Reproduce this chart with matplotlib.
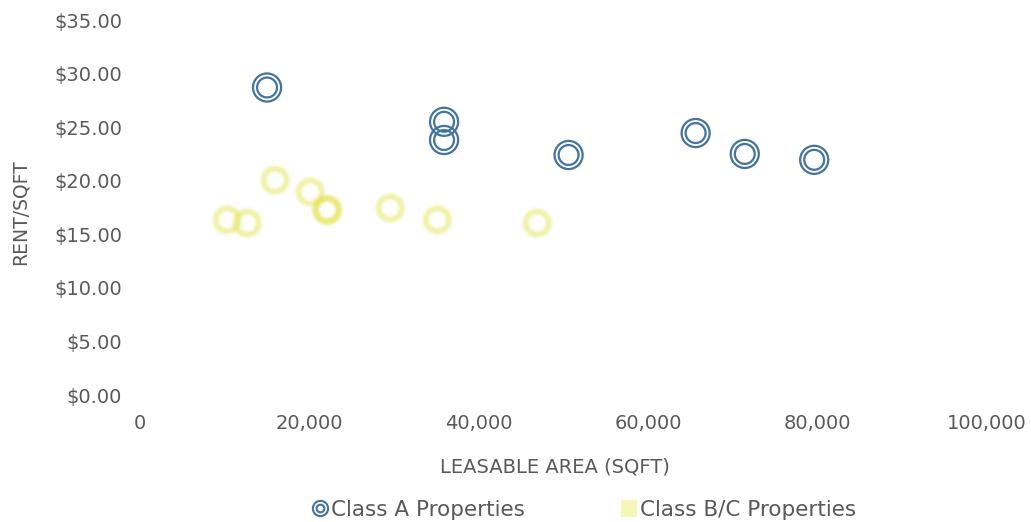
import matplotlib
matplotlib.use("Agg")
import matplotlib.pyplot as plt
from matplotlib.lines import Line2D
from matplotlib.patches import Patch
from matplotlib.legend_handler import HandlerTuple
from matplotlib.ticker import FuncFormatter

# Leasable area (sqft) and rent per sqft
class_a_area = [15000, 35900, 35900, 50600, 65600, 71400, 79600]
class_a_rent = [28.70, 25.50, 23.80, 22.40, 24.45, 22.50, 21.95]

class_bc_area = [10300, 12650, 15950, 20100, 22100, 22100, 29550, 35100, 46900]
class_bc_rent = [16.35, 16.05, 20.05, 18.95, 17.30, 17.25, 17.45, 16.35, 16.05]

x_ticks = [0, 20000, 40000, 60000, 80000, 100000]
y_ticks = [0, 5, 10, 15, 20, 25, 30, 35]

series_names = ["Class A Properties", "Class B/C Properties"]
x_title = "LEASABLE AREA (SQFT)"
y_title = "RENT/SQFT"

BLUE = "#44739f"
YELLOW = "#e2e23c"
TEXT = "#595959"
plt.rcParams["font.family"] = ["DejaVu Sans"]

W, H = 1031, 522
fig = plt.figure(figsize=(W / 100, H / 100), dpi=100)
ax = fig.add_axes([140 / W, (H - 395) / H, (987 - 140) / W, (395 - 20) / H])

# Class B/C: soft, blurred yellow rings
for lw, a in [(7.0, 0.09), (5.0, 0.14), (3.0, 0.24)]:
    ax.scatter(class_bc_area, class_bc_rent, s=270, facecolors="none",
               edgecolors=YELLOW, linewidths=lw, alpha=a, zorder=2)

# Class A: double-ring markers
ax.scatter(class_a_area, class_a_rent, s=410, facecolors="none",
           edgecolors=BLUE, linewidths=1.6, zorder=3)
ax.scatter(class_a_area, class_a_rent, s=205, facecolors="none",
           edgecolors=BLUE, linewidths=1.6, zorder=3)

ax.set_xlim(0, 100000)
ax.set_ylim(0, 35)
ax.set_xticks(x_ticks)
ax.set_yticks(y_ticks)
ax.xaxis.set_major_formatter(FuncFormatter(lambda v, p: f"{int(v):,}"))
ax.yaxis.set_major_formatter(FuncFormatter(lambda v, p: f"${v:.2f}"))
ax.tick_params(axis="both", length=0, labelsize=14, labelcolor=TEXT)
ax.tick_params(axis="y", pad=13)
ax.tick_params(axis="x", pad=14)
for s in ax.spines.values():
    s.set_visible(False)

fig.text(555 / W, (H - 467) / H, x_title, ha="center", va="center",
         fontsize=14, color=TEXT)
fig.text(20 / W, (H - 212) / H, y_title, ha="center", va="center",
         rotation=90, fontsize=13.5, color=TEXT)

h_a = (Line2D([], [], marker="o", ls="none", ms=11, mfc="none", mec=BLUE, mew=1.5),
       Line2D([], [], marker="o", ls="none", ms=5.5, mfc="none", mec=BLUE, mew=1.5))
h_bc = Patch(facecolor="#f6f6b8", edgecolor="none")
fig.legend([h_a, h_bc], series_names, handler_map={tuple: HandlerTuple(ndivide=1, pad=0)},
           loc="center", bbox_to_anchor=(584 / W, (H - 510) / H), ncol=2, frameon=False,
           fontsize=15.5, labelcolor=TEXT, handlelength=0.75, handletextpad=0.1,
           columnspacing=4.5, handleheight=0.8)

fig.savefig("out.png", dpi=100, facecolor="white")
